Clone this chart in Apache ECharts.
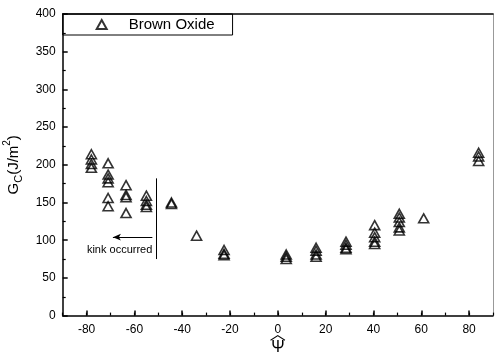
<!DOCTYPE html>
<html>
<head>
<meta charset="utf-8">
<script src="https://cdn.jsdelivr.net/npm/echarts@6/dist/echarts.min.js"></script>
<style>html,body{margin:0;padding:0;background:#fff}#c{width:495px;height:356px}</style>
</head>
<body>
<div id="c"></div>
<script>
// Data (psi-hat vs G_C)
const psiValues = [
  -78, -78, -78, -78,
  -71, -71, -71, -71, -71, -71,
  -63.5, -63.5, -63.5, -63.5,
  -55, -55, -55, -55,
  -44.5, -44.5,
  -34,
  -22.5, -22.5, -22.5,
  3.5, 3.5, 3.5,
  16, 16, 16, 16,
  28.5, 28.5, 28.5, 28.5,
  40.5, 40.5, 40.5, 40.5, 40.5,
  50.8, 50.8, 50.8, 50.8, 50.8,
  61,
  84, 84, 84
];
const gcValues = [
  214, 207, 201, 196,
  202, 187, 182, 177, 156, 145,
  173, 160, 157, 136,
  159, 152, 147, 144,
  150, 148,
  106,
  87, 82, 80,
  81, 78, 75,
  90, 86, 81, 78,
  98, 94, 90, 88,
  120, 110, 104, 98, 95,
  135, 130, 124, 117, 113,
  129,
  216, 211, 205
];
const seriesName = 'Brown Oxide';
const xMajorTicks = [-80, -60, -40, -20, 0, 20, 40, 60, 80];
const kinkLabel = 'kink occurred';
const kinkLineX = -50.7, kinkLineY = [75, 182];
const kinkArrowY = 104, kinkArrowX = [-52.5, -69];
const kinkTextPos = [-52.3, 87];

const FONT = 'Liberation Sans, Arial, sans-serif';
const chart = echarts.init(document.getElementById('c'), null, {renderer: 'canvas'});
const data = psiValues.map((x, i) => [x, gcValues[i]]);

chart.setOption({
  animation: false,
  backgroundColor: '#fff',
  grid: {left: 62.7, right: 2, top: 14, bottom: 40.4, containLabel: false, outerBoundsMode: 'none'},
  legend: {
    left: 62.7, top: 14,
    orient: 'horizontal',
    borderColor: '#000', borderWidth: 1, borderRadius: 0,
    padding: [3, 18, 3, 33],
    itemWidth: 10, itemHeight: 9,
    textStyle: {fontFamily: FONT, fontSize: 15, color: '#000', padding: [0, 0, 0, 17]},
    data: [seriesName]
  },
  xAxis: [
    {
      type: 'value', min: -90, max: 90, interval: 10,
      position: 'bottom',
      name: '{h|︿}\n{p|Ψ}', nameLocation: 'middle', nameGap: 10, nameMoveOverlap: false,
      nameTextStyle: {
        color: '#000',
        rich: {
          h: {fontFamily: 'Noto Sans CJK SC', fontSize: 16, lineHeight: 14, color: '#000', align: 'center'},
          p: {fontFamily: FONT, fontSize: 16, lineHeight: 15, color: '#000', align: 'center'}
        }
      },
      axisLine: {show: true, onZero: false, lineStyle: {color: '#000', width: 1.5}},
      axisTick: {show: true, inside: true, length: 5, customValues: xMajorTicks, lineStyle: {color: '#000', width: 1.5}},
      axisLabel: {show: true, customValues: xMajorTicks, fontFamily: FONT, fontSize: 12, color: '#000', margin: 8},
      splitLine: {show: false}
    },
    {
      type: 'value', min: -90, max: 90, interval: 10,
      position: 'bottom',
      axisLine: {show: false, onZero: false},
      axisTick: {show: true, inside: true, length: 3, lineStyle: {color: '#000', width: 1.2}},
      axisLabel: {show: false},
      splitLine: {show: false}
    },
    {
      type: 'value', min: -90, max: 90,
      position: 'top',
      axisLine: {show: true, onZero: false, lineStyle: {color: '#000', width: 1.5}},
      axisTick: {show: false}, axisLabel: {show: false}, splitLine: {show: false}
    }
  ],
  yAxis: [
    {
      type: 'value', min: 0, max: 400, interval: 50,
      position: 'left',
      name: '{g|G}{s|C}{g|(J/m}{p|2}{g|)}',
      nameLocation: 'middle', nameGap: 38, nameRotate: 90, nameMoveOverlap: false,
      nameTextStyle: {
        color: '#000',
        rich: {
          g: {fontFamily: FONT, fontSize: 15, color: '#000', lineHeight: 22, verticalAlign: 'middle'},
          s: {fontFamily: FONT, fontSize: 11, color: '#000', lineHeight: 22, verticalAlign: 'bottom'},
          p: {fontFamily: FONT, fontSize: 10, color: '#000', lineHeight: 22, verticalAlign: 'top'}
        }
      },
      axisLine: {show: true, onZero: false, lineStyle: {color: '#000', width: 1.5}},
      axisTick: {show: true, inside: true, length: 5, lineStyle: {color: '#000', width: 1.5}},
      minorTick: {show: true, splitNumber: 2, length: 3, lineStyle: {color: '#000', width: 1.2}},
      axisLabel: {fontFamily: FONT, fontSize: 12, color: '#000', margin: 7},
      splitLine: {show: false}
    },
    {
      type: 'value', min: 0, max: 400,
      position: 'right',
      axisLine: {show: true, onZero: false, lineStyle: {color: '#999', width: 1}},
      axisTick: {show: false}, axisLabel: {show: false}, splitLine: {show: false}
    }
  ],
  series: [{
    name: seriesName,
    type: 'scatter',
    xAxisIndex: 0, yAxisIndex: 0,
    symbol: 'triangle',
    symbolSize: [10, 9],
    itemStyle: {color: 'rgba(0,0,0,0)', borderColor: '#000', borderWidth: 1.6},
    emphasis: {disabled: true},
    data: data,
    markLine: {
      silent: true,
      symbol: ['none', 'none'],
      lineStyle: {color: '#000', width: 1, type: 'solid'},
      label: {show: false},
      data: [
        [{coord: [kinkLineX, kinkLineY[1]]}, {coord: [kinkLineX, kinkLineY[0]]}],
        [{coord: [kinkArrowX[0], kinkArrowY]}, {coord: [kinkArrowX[1], kinkArrowY], symbol: 'arrow', symbolSize: [5, 8]}]
      ]
    },
    markPoint: {
      silent: true,
      symbol: 'circle', symbolSize: 1,
      itemStyle: {color: 'rgba(0,0,0,0)'},
      label: {show: true, position: 'left', distance: 0, formatter: kinkLabel, fontFamily: FONT, fontSize: 11, color: '#000'},
      data: [{coord: kinkTextPos}]
    }
  }]
});
</script>
</body>
</html>
